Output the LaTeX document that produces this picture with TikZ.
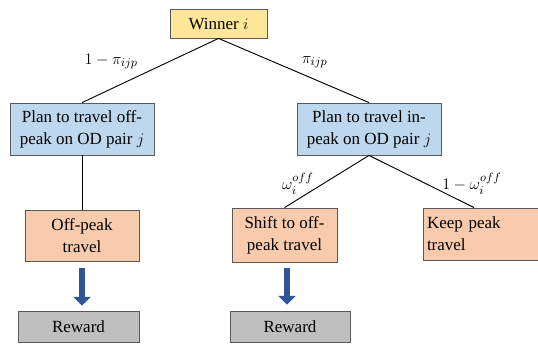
\documentclass[tikz,border=0pt]{standalone}
\usepackage{fontspec}
\setmainfont{Liberation Serif}
\usepackage{amsmath}
\usepackage{tikz}
\usetikzlibrary{arrows.meta,positioning,calc}
\definecolor{winfill}{HTML}{FFE699}
\definecolor{planfill}{HTML}{BDD7EE}
\definecolor{travelfill}{HTML}{F8CBAD}
\definecolor{rewardfill}{HTML}{BFBFBF}
\definecolor{arrowblue}{HTML}{2F5597}
\definecolor{boxline}{HTML}{595959}

\begin{document}
\begin{tikzpicture}[x=0.75pt,y=-0.75pt,font=\fontsize{12.75}{16.5}\selectfont]
\tikzstyle{box}=[rectangle,draw=boxline,line width=0.6pt,inner sep=0pt,align=center]
\tikzstyle{branch}=[-,line width=0.7pt,black]
\tikzstyle{reward arrow}=[-{Triangle[width=12.5pt,length=6.5pt]},line width=4pt,arrowblue]
\useasboundingbox (0,0) rectangle (538,343);

% top of the tree
\node (winner) [box,fill=winfill,minimum width=72.75pt,minimum height=21.75pt] at (218.5,23.5) {Winner $i$};

\node (plan_off) [box,fill=planfill,minimum width=108pt,minimum height=39pt] at (82,129)
  {Plan to travel off-\\peak on OD pair $j$};
\node (plan_in) [box,fill=planfill,minimum width=108pt,minimum height=39pt] at (369,129)
  {Plan to travel in-\\peak on OD pair $j$};

% second level
\node (offpeak) [box,fill=travelfill,minimum width=85.5pt,minimum height=38.25pt] at (82,235.5)
  {Off-peak\\travel};
\node (shift) [box,fill=travelfill,minimum width=78.75pt,minimum height=40.5pt] at (284.5,235)
  {Shift to off-\\peak travel};
\node (keep) [box,fill=travelfill,minimum width=90pt,minimum height=39pt,align=left,
  text width=84pt,inner xsep=3pt] at (483,234) {Keep peak\\travel};

% rewards
\node (reward_a) [box,fill=rewardfill,minimum width=90.75pt,minimum height=23.25pt] at (78.5,326.5) {Reward};
\node (reward_b) [box,fill=rewardfill,minimum width=90pt,minimum height=23.25pt] at (290,326.5) {Reward};

\draw[branch] (winner.south) -- node[pos=0.36,anchor=east,xshift=-20pt] {$1-\pi_{ijp}$} (plan_off.north);
\draw[branch] (winner.south) -- node[pos=0.37,anchor=west,xshift=17pt] {$\pi_{ijp}$} (plan_in.north);

\draw[branch] (plan_off.south) -- (offpeak.north);
\draw[branch] (plan_in.south) -- node[pos=0.55,anchor=east,xshift=-3pt] {$\omega_i^{off}$} (shift.north);
\draw[branch] (plan_in.south) -- node[pos=0.55,anchor=west,xshift=8pt] {$1-\omega_i^{off}$} ($(keep.north)+(-9,0)$);

\draw[reward arrow,shorten <=5.25pt,shorten >=3.75pt] (offpeak.south) -- (offpeak.south |- reward_a.north);
\draw[reward arrow,shorten <=4pt,shorten >=4.5pt] ($(shift.south)+(2.5,0)$) -- ($(reward_b.north)+(-3,0)$);

\end{tikzpicture}
\end{document}
